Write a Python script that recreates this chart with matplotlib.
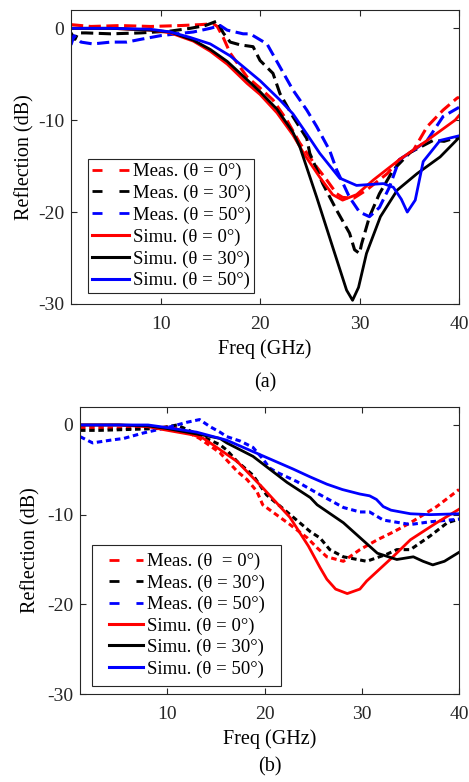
import numpy as np
import matplotlib
matplotlib.use("Agg")
import matplotlib.pyplot as plt
from matplotlib.lines import Line2D
from matplotlib.legend_handler import HandlerLine2D

plt.rcParams['font.family'] = ['Liberation Serif', 'DejaVu Serif']
plt.rcParams['font.size'] = 14
plt.rcParams['axes.unicode_minus'] = False
plt.rcParams['axes.edgecolor'] = '#262626'
plt.rcParams['xtick.color'] = '#262626'
plt.rcParams['ytick.color'] = '#262626'

# ---- (a) ----
a_sim0_f = [1, 5, 9, 11, 12, 13.3, 15, 16.7, 18.7, 20, 21.7, 23.3, 24.5, 26, 27.3, 28.3, 29.7, 31.4, 34, 36.8, 39.6, 40]
a_sim0_db = [0, 0, -0.2, -0.5, -0.9, -1.4, -2.5, -3.9, -6.0, -7.2, -9.2, -11.6, -13.8, -16.2, -18.1, -18.7, -18.1, -16.5, -14.3, -12.2, -10.0, -9.5]
a_sim30_f = [1, 5, 9, 11, 12, 13.3, 15, 16.7, 18.7, 20, 21.7, 23.3, 24, 25.7, 27.3, 28.7, 29.3, 29.9, 30.7, 32.1, 33.8, 35.8, 38.1, 40]
a_sim30_db = [0, 0, -0.2, -0.4, -0.8, -1.3, -2.3, -3.6, -5.6, -6.9, -8.8, -11.3, -12.9, -18.4, -23.8, -28.5, -29.6, -28.2, -24.5, -20.5, -17.6, -15.8, -14.0, -11.9]
a_sim50_f = [1, 5, 9, 11, 13, 15, 17, 20, 22, 23.3, 24.7, 26, 28, 29.7, 31, 32.4, 33.4, 34.2, 34.8, 35.6, 36.4, 38.1, 40]
a_sim50_db = [0, 0, -0.1, -0.4, -1.0, -1.7, -3.0, -5.7, -7.8, -9.3, -11.5, -13.6, -16.3, -17.1, -17.0, -16.9, -17.3, -18.6, -20.0, -18.7, -14.5, -12.2, -11.7]

a_mea0_f = [1, 3, 6, 9, 12, 14, 15.3, 15.7, 16.3, 17, 18.7, 20, 21.3, 22.7, 24, 25.7, 26.7, 27.7, 28.3, 29.4, 30.7, 32.8, 34, 35.4, 36.8, 38.4, 39.8, 40]
a_mea0_db = [0.4, 0.2, 0.3, 0.2, 0.3, 0.4, 0.5, 0.2, -1.0, -2.7, -5.3, -6.5, -7.8, -10.0, -12.5, -15.1, -16.5, -18.0, -18.4, -18.5, -17.6, -15.8, -14.3, -13.3, -10.7, -8.9, -7.6, -7.5]
a_mea30_f = [1, 1.4, 1.7, 2.5, 5, 8, 11, 13, 14.5, 15.7, 16.3, 17, 18, 19.3, 20, 21.3, 22, 23.3, 24.7, 25, 26.3, 27.7, 29, 29.5, 30, 30.2, 31, 32, 33.4, 35.1, 37.4, 38.5, 40]
a_mea30_db = [-0.5, -1.2, -0.5, -0.5, -0.6, -0.5, -0.3, 0, 0.3, 0.8, -0.5, -1.5, -1.8, -2.0, -3.5, -4.9, -7.1, -9.6, -12.0, -13.6, -16.9, -19.8, -22.3, -24.1, -24.5, -23.5, -20.5, -18.0, -15.4, -13.5, -12.2, -12.3, -11.8]
a_mea50_f = [1, 1.3, 2, 3.2, 5, 6.6, 8, 10, 13.3, 15, 16, 16.7, 18.3, 19, 20.7, 22, 23.3, 24.7, 25.7, 27, 27.7, 29, 30, 31, 32, 33, 34, 35.4, 36.8, 38.4, 40]
a_mea50_db = [-1.8, -0.8, -1.5, -1.7, -1.5, -1.5, -1.2, -0.8, -0.4, 0, 0.3, -0.2, -0.6, -0.6, -1.7, -4.2, -6.7, -8.9, -10.7, -13.3, -15.4, -18.4, -20.0, -20.5, -19.5, -17.3, -14.3, -13.3, -12.2, -9.6, -8.6]

# ---- (b) ----
b_sim0_f = [1, 5, 8, 10, 12.6, 13.7, 14.4, 17.2, 19.8, 22.6, 24.5, 25.7, 26.4, 27.3, 28.5, 29.8, 30.5, 31.9, 33.2, 35, 37.7, 40]
b_sim0_db = [0, 0, -0.2, -0.6, -1.1, -1.5, -2.0, -4.1, -7.0, -10.3, -13.5, -15.9, -17.2, -18.3, -18.8, -18.3, -17.4, -16.0, -14.7, -12.8, -10.9, -9.4]
b_sim30_f = [1, 5, 8, 10, 12, 14, 15.4, 16.1, 18.8, 22.3, 24.7, 25.4, 28.1, 31.6, 33.6, 35.3, 36.3, 37.3, 38.5, 40]
b_sim30_db = [0, 0, -0.1, -0.4, -0.8, -1.2, -1.5, -2.0, -3.5, -6.4, -8.1, -8.9, -10.9, -14.3, -15.0, -14.7, -15.2, -15.6, -15.2, -14.2]
b_sim50_f = [1, 5, 8, 10, 13, 16.1, 19.5, 22.9, 24.7, 26.4, 28, 29.8, 30.8, 31.5, 32.2, 33, 35, 37, 40]
b_sim50_db = [0, 0, 0, -0.3, -0.8, -1.7, -3.3, -4.9, -5.8, -6.6, -7.2, -7.7, -7.9, -8.3, -9.1, -9.5, -9.9, -10.0, -9.9]

b_mea0_f = [1, 3, 6, 9, 10.3, 11.5, 13.3, 15.4, 17.2, 18.2, 19.2, 19.8, 21.2, 22.6, 24.4, 25.4, 26.4, 28.1, 29.8, 31.6, 33.3, 35, 37.7, 40]
b_mea0_db = [-0.3, -0.3, -0.4, -0.3, -0.2, -0.5, -1.5, -3.1, -5.2, -6.1, -7.4, -8.9, -10.0, -11.1, -12.6, -13.7, -14.7, -15.2, -13.9, -12.8, -11.9, -10.9, -9.1, -7.2]
b_mea30_f = [1, 3, 6, 9, 11, 14.4, 15.4, 16.1, 17.2, 18.8, 20.2, 22.3, 24.7, 25.7, 26.7, 28.1, 30.5, 32.6, 33.6, 35, 37, 38.8, 40]
b_mea30_db = [-0.6, -0.6, -0.5, -0.4, 0, -1.7, -2.2, -2.8, -4.1, -5.6, -7.8, -9.7, -11.9, -12.6, -13.9, -14.7, -15.2, -14.4, -13.9, -13.9, -12.4, -10.9, -10.5]
b_mea50_f = [1, 2.3, 4.1, 5.5, 7.5, 10.3, 12, 13.3, 14.4, 15.4, 16.1, 17.5, 18.8, 19.9, 20.5, 21.3, 23.3, 25.4, 28.1, 29.8, 30.8, 32.2, 35, 37, 40]
b_mea50_db = [-1.3, -2.0, -1.7, -1.5, -0.9, -0.2, 0.3, 0.6, -0.2, -0.8, -1.3, -1.8, -2.5, -3.9, -4.8, -5.3, -6.3, -7.6, -9.2, -9.7, -9.7, -10.6, -11.1, -10.8, -10.5]

labels_a = ["Meas. (θ = 0°)", "Meas. (θ = 30°)", "Meas. (θ = 50°)",
            "Simu. (θ = 0°)", "Simu. (θ = 30°)", "Simu. (θ = 50°)"]
labels_b = ["Meas. (θ  = 0°)", "Meas. (θ = 30°)", "Meas. (θ = 50°)",
            "Simu. (θ = 0°)", "Simu. (θ = 30°)", "Simu. (θ = 50°)"]
colors = ["#ff0000", "#000000", "#0000ff"]


def style_axes(ax):
    ax.set_xlim(1, 40)
    ax.set_ylim(-30, 2)
    ax.set_xticks([10, 20, 30, 40])
    ax.set_yticks([0, -10, -20, -30])
    ax.tick_params(direction='in', top=True, right=True, length=4, width=0.8, labelsize=14, pad=5)
    ax.tick_params(axis='x', pad=8.5)
    for s in ax.spines.values():
        s.set_linewidth(0.8)
    ax.set_xlabel("Freq (GHz)", fontsize=14.5, labelpad=4.5)
    ax.set_ylabel("Reflection (dB)", fontsize=14.5)


def draw(ax, meas, sims, dash, labels, leg_kw):
    for (f, d), c in zip(meas, colors):
        ax.plot(f, d, color=c, lw=2.2, linestyle=dash)
    for (f, d), c in zip(sims, colors):
        ax.plot(f, d, color=c, lw=2.0)
    handles = [Line2D([], [], color=c, lw=2.0, linestyle=(0, (3.6, 6.1))) for c in colors]
    handles += [Line2D([], [], color=c, lw=2.2) for c in colors]
    leg = ax.legend(handles, labels, loc='lower left', borderaxespad=0,
                    fancybox=False, framealpha=1, edgecolor='#262626',
                    fontsize=13.5, handletextpad=0.2, **leg_kw)
    leg.get_frame().set_linewidth(0.8)
    style_axes(ax)


fig = plt.figure(figsize=(4.69, 7.82), dpi=100)
ax1 = fig.add_axes([0.1514, 0.6113, 0.8273, 0.3760])
ax2 = fig.add_axes([0.1706, 0.1125, 0.8081, 0.3670])

draw(ax1,
     [(a_mea0_f, a_mea0_db), (a_mea30_f, a_mea30_db), (a_mea50_f, a_mea50_db)],
     [(a_sim0_f, a_sim0_db), (a_sim30_f, a_sim30_db), (a_sim50_f, a_sim50_db)],
     (0, (4, 1.8)), labels_a,
     dict(bbox_to_anchor=(0.044, 0.037), borderpad=0.2, labelspacing=0.24, handlelength=1.97))
draw(ax2,
     [(b_mea0_f, b_mea0_db), (b_mea30_f, b_mea30_db), (b_mea50_f, b_mea50_db)],
     [(b_sim0_f, b_sim0_db), (b_sim30_f, b_sim30_db), (b_sim50_f, b_sim50_db)],
     (0, (1.8, 1.2)), labels_b,
     dict(bbox_to_anchor=(0.032, 0.028, 0.4987, 0.1), mode='expand', borderpad=0.45,
          labelspacing=0.22, handlelength=2.27,
          handler_map={Line2D: HandlerLine2D(xpad=0.46)}))

ax1.yaxis.set_label_coords(-0.093, 0.5)
ax2.yaxis.set_label_coords(-0.105, 0.5)

fig.text(0.5 * (71 + 459) / 469, 1 - 383 / 782, "(a)", ha='center', va='center', fontsize=14.5)
fig.text(0.5 * (80 + 459) / 469, 1 - 767 / 782, "(b)", ha='center', va='center', fontsize=14.5)

fig.savefig("out.png", dpi=100)
